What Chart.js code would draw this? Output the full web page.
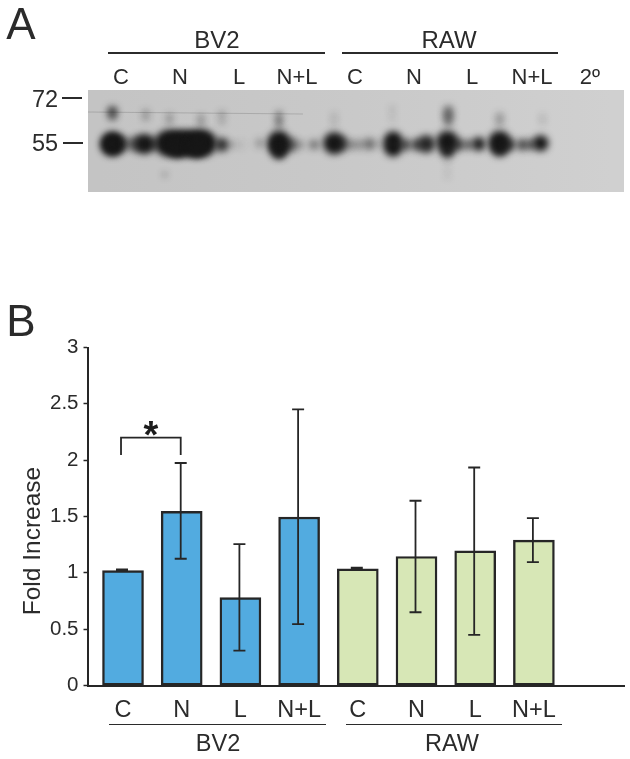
<!DOCTYPE html>
<html><head><meta charset="utf-8">
<script src="https://cdn.jsdelivr.net/npm/chart.js@4"></script>
<style>
html,body{margin:0;padding:0;background:#fff;width:630px;height:759px;overflow:hidden}
#page{position:relative;width:630px;height:759px;font-family:"Liberation Sans",Arial,sans-serif;color:#2b2b2b}
.t{position:absolute;white-space:nowrap;transform:translate(-50%,-50%);line-height:1}
.r{position:absolute;background:#2b2b2b}
canvas{position:absolute;display:block}
</style></head><body>
<div id="page">
<canvas id="gel" width="536" height="102" style="left:88px;top:90px;width:536px;height:102px"></canvas>
<canvas id="bars" width="630" height="759" style="left:0;top:0;width:630px;height:759px"></canvas>
</div>
<script>
// Panel B values
const categories = ['C','N','L','N+L','C','N','L','N+L'];
const barValues  = [1.02,1.545,0.78,1.495,1.035,1.145,1.195,1.29];
const errHigh    = [1.03,1.975,1.255,2.45,1.045,1.64,1.935,1.485];
const errLow     = [1.02,1.125,0.31,0.545,1.035,0.65,0.45,1.095];
const barColors  = ['#52abe0','#52abe0','#52abe0','#52abe0','#d7e7b6','#d7e7b6','#d7e7b6','#d7e7b6'];
const yTicks     = [0,0.5,1,1.5,2,2.5,3];
const yTickLabels= ['0','0.5','1','1.5','2','2.5','3'];
const groups     = ['BV2','RAW'];
// Panel A blot bands (position along gel, position down gel, size, shade)
const bandX = [12,12,20,29,38,46,55, 70,80,90,100,108,80,100, 127,138,147,167, 187,187,187,200,210,224, 245,254,264,272,282,292,
               307,307,320,332,342, 364,364,376,386,397, 419,419,430,443,452,462,
               12,12,47,47,72,72,105,105,127,127,187,187,187,245,245,306,306,365,365,365,419,419,464,464, 364,364,364, 67];
const bandY = [55,55,55,55,55,55,55, 54,54,54,54,54,60,60, 56,56,56,54, 52,60,68,56,56,56, 54,55,56,56,55,55,
               50,60,56,56,55, 52,64,56,56,55, 52,60,56,56,56,54,
               11,18,13,20,18,25,20,28,15,25,15,24,32,17,27,8,20,10,18,26,18,26,18,26, 74,86,98, 96];
const bandR = [12,10,8,6,8,10,6, 13,13,13,13,13,10,10, 7,3,5,5, 11,10,5,7,4,5, 11,7,5,5,6,4,
               9,9,6,6,9, 11,7,6,5,7, 11,9,6,6,5,8,
               5,4,3,3,3,3,3,3,3,3,3,3,2,3,3,2,2,5,5,4,4,4,3,3, 1.5,1.5,1.5, 1.5];
const bandA = [1,1,.5,.35,.6,1,.6, 1,1,1,1,1,.9,.9, .85,.3,.08,.28, 1,1,.8,.6,.3,.5, 1,.5,.35,.3,.5,.2,
               1,1,.7,.7,.9, 1,.9,.7,.6,.95, 1,.9,.7,.7,.65,1,
               .8,.6,.4,.35,.4,.35,.45,.4,.4,.3,.6,.9,.8,.2,.2,.4,.35,.5,.6,.5,.3,.3,.15,.15, .6,.5,.5, 1];

const page = document.getElementById('page');
const line = (x0,x1,y,h)=>{const d=document.createElement('div');d.className='r';
  d.style.cssText=`left:${x0}px;width:${x1-x0}px;top:${y-h/2}px;height:${h}px`;page.appendChild(d);};
const label = (s,x,y,size,extra)=>{const d=document.createElement('div');d.className='t';d.textContent=s;
  d.style.cssText=`left:${x}px;top:${y}px;font-size:${size}px;${extra||''}`;page.appendChild(d);};

// Panel A text
label('A',21,24,44);
label(groups[0],217,40,24); label(groups[1],449,40,24);
line(108,325,53,2); line(342,558,53,2);
[121,180,239,297,355,414,472,532].forEach((x,i)=>label(categories[i],x,77,22));
label('2º',590,77,22);
label('72',45,100,23.5); label('55',45,144,23.5);
line(62,82,98,2); line(63,83,143,2);
// Panel B text
label('B',21,321,44);
label('Fold Increase',32,541,24.5,'transform:translate(-50%,-50%) rotate(-90deg);');
label(groups[0],218,744,23.5); label(groups[1],452,744,23.5);
line(109,326,724.5,1.5); line(346,562,724.5,1.5);

// Panel A: blot
new Chart(document.getElementById('gel'),{
  type:'bubble',
  data:{datasets:[{
    data:bandX.map((x,i)=>({x:x,y:bandY[i],r:bandR[i]})),
    backgroundColor:bandA.map(a=>`rgba(22,22,22,${a})`),borderWidth:0,clip:false
  }]},
  options:{animation:false,responsive:false,events:[],layout:{padding:0},
    plugins:{legend:{display:false},tooltip:{enabled:false}},
    scales:{x:{type:'linear',min:0,max:536,display:false},y:{type:'linear',min:0,max:102,reverse:true,display:false}}},
  plugins:[{id:'gelBg',
    beforeDraw(c){const g=c.ctx,a=c.chartArea;const lg=g.createLinearGradient(a.left,0,a.right,0);
      lg.addColorStop(0,'#c4c4c4');lg.addColorStop(.5,'#c9c9c9');lg.addColorStop(1,'#d0d0d0');
      g.fillStyle=lg;g.fillRect(0,0,c.width,c.height);
      g.strokeStyle='rgba(70,70,70,.22)';g.lineWidth=1;g.beginPath();g.moveTo(0,22);g.lineTo(215,24);g.stroke();},
    beforeDatasetsDraw(c){c.ctx.save();c.ctx.filter='blur(3.5px)';},
    afterDatasetsDraw(c){c.ctx.restore();}
  }]
});

// Panel B: bars
const ink='#262626';
new Chart(document.getElementById('bars'),{
  type:'bar',
  data:{datasets:[{
    data:barValues.map((v,i)=>({x:i,y:v})),
    backgroundColor:barColors,borderColor:ink,borderWidth:2.4,borderSkipped:false,barThickness:41
  }]},
  options:{animation:false,responsive:false,events:[],
    layout:{padding:{left:0,top:347.5,right:6,bottom:0}},
    plugins:{legend:{display:false},tooltip:{enabled:false}},
    scales:{
      x:{type:'linear',offset:false,min:-0.605,max:8.535,
        afterBuildTicks(s){s.ticks=categories.map((_,i)=>({value:i}));},
        afterFit(s){s.height=759-685.5;},
        grid:{display:false,drawTicks:false},
        border:{color:ink,width:2},
        ticks:{autoSkip:false,maxRotation:0,padding:11,color:'#2b2b2b',
          font:{family:'"Liberation Sans"',size:23.5},
          callback:(v)=>categories[v]}},
      y:{type:'linear',min:0,max:3,
        afterBuildTicks(s){s.ticks=yTicks.map(v=>({value:v}));},
        afterFit(s){s.width=87.5;},
        grid:{drawOnChartArea:false,color:ink,tickLength:4,tickWidth:1.5},
        border:{color:ink,width:2},
        ticks:{padding:5,color:'#2b2b2b',font:{family:'"Liberation Sans"',size:20.5},
          callback:(v)=>yTickLabels[yTicks.indexOf(v)]}}
    }},
  plugins:[{id:'errs',afterDatasetsDraw(c){
    const g=c.ctx,X=c.scales.x,Y=c.scales.y;
    g.save();g.strokeStyle=ink;g.lineWidth=2;g.beginPath();
    barValues.forEach((_,i)=>{
      const x=X.getPixelForValue(i)-1,hi=Y.getPixelForValue(errHigh[i]),lo=Y.getPixelForValue(errLow[i]);
      g.moveTo(x,hi);g.lineTo(x,lo);
      g.moveTo(x-6,hi);g.lineTo(x+6,hi);
      g.moveTo(x-6,lo);g.lineTo(x+6,lo);
    });
    // significance bracket between first two bars
    const a=X.getPixelForValue(0)-2,b=X.getPixelForValue(1)-1,t=Y.getPixelForValue(2.2),d=Y.getPixelForValue(2.045);
    g.moveTo(a,d);g.lineTo(a,t);g.lineTo(b,t);g.lineTo(b,d);
    g.lineWidth=1.8;g.stroke();
    g.fillStyle='#1c1c1c';g.font='bold 38px "Liberation Sans"';g.textAlign='center';g.textBaseline='alphabetic';
    g.fillText('*',(a+b)/2,Y.getPixelForValue(2.2)+10);
    g.restore();
  }}]
});
</script>
</body></html>
